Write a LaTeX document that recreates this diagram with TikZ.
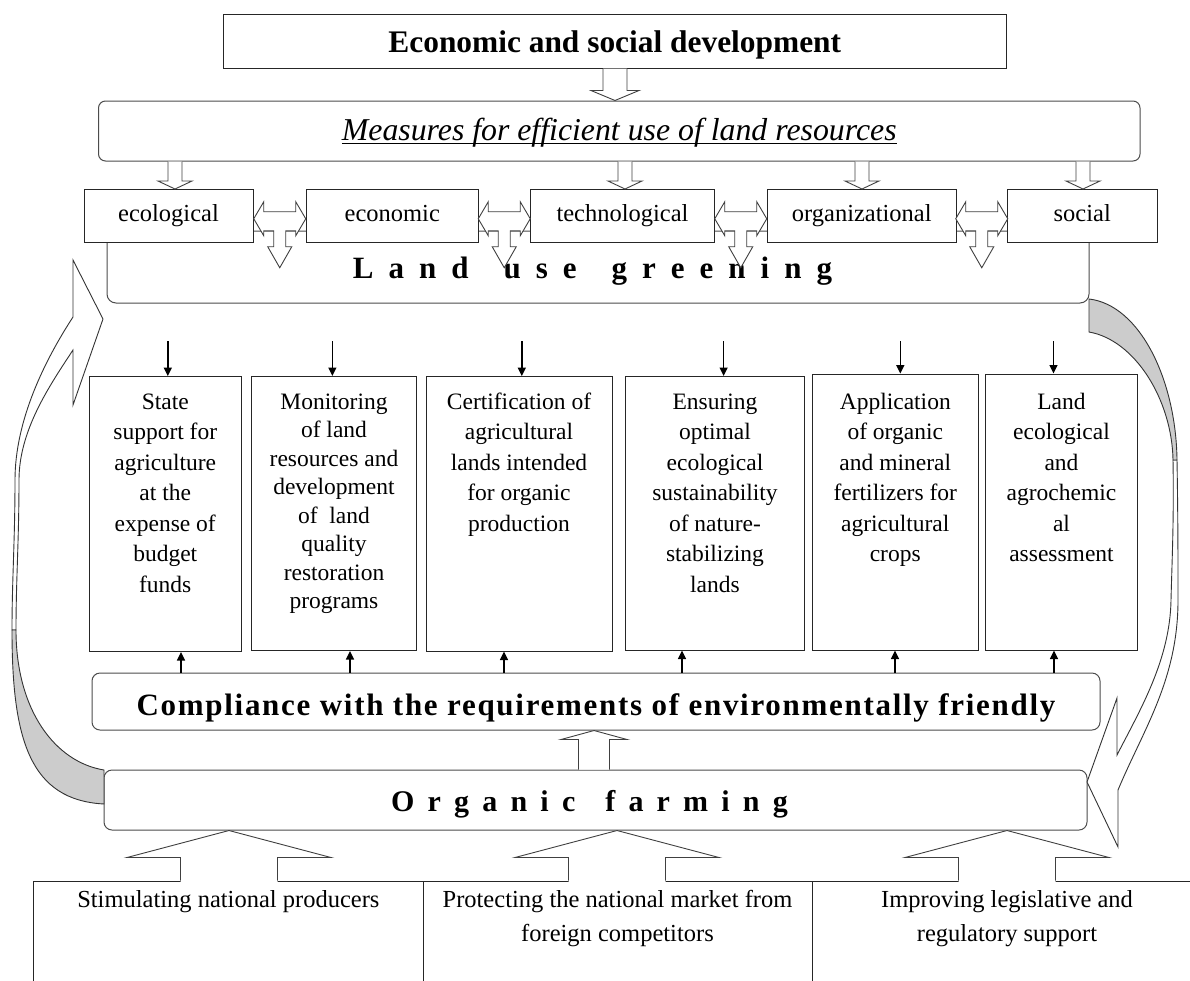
\documentclass[tikz,border=0pt]{standalone}
\usepackage{fontspec}
\setmainfont{Liberation Serif}
\usetikzlibrary{calc,arrows.meta}

% type sizes
\newcommand\boxfont{\fontsize{23.5}{30.5}\selectfont}
\newcommand\boxfonttight{\fontsize{23.5}{28.5}\selectfont}
\newcommand\basefont{\fontsize{24.5}{34}\selectfont}
\newcommand\catfont{\fontsize{24.5}{24.5}\selectfont}
\newcommand\headfont{\bfseries\fontsize{31.4}{31.4}\selectfont}
% struts fixing the first baseline of top-aligned texts
\newcommand\firstline{\rule{0pt}{21.4pt}}
\newcommand\firstlinebase{\rule{0pt}{22pt}}
% letter and word gaps of the spaced-out headings
\newcommand\lgap{\hspace{15pt}}
\newcommand\wgap{\hspace{35pt}}
\newcommand\ogap{\hspace{13.2pt}}
\newcommand\owgap{\hspace{30pt}}
% underline sitting just under the baseline
\newsavebox\ulbox
\newcommand\undl[1]{\sbox\ulbox{#1}\rlap{\rule[-3.5pt]{\wd\ulbox}{0.9pt}}\usebox\ulbox}

% hollow block arrow pointing down from one node to another
\newcommand\blockdown[6]{%
  \path (#1,0 |- #2.south) coordinate (bs) (#1,0 |- #3.north) coordinate (be);
  \filldraw[hollow] ($(bs)+(-#4,0)$) -- ($(be)+(-#4,-#6)$) -- ($(be)+(-#5,-#6)$) -- (be)
    -- ($(be)+(#5,-#6)$) -- ($(be)+(#4,-#6)$) -- ($(bs)+(#4,0)$);
}
% two-headed arrow between neighbouring boxes with a branch pointing down
\newcommand\tarrow[2]{%
  \path ($(#1.east)!0.5!(#2.west)$) coordinate (tc);
  \filldraw[hollow, shift={(tc)}] (-26,3) -- (-16,-14) -- (-16,-4) -- (16,-4) -- (16,-14)
    -- (26,3) -- (16,20) -- (16,15) -- (6,15) -- (6,31) -- (12,31) -- (0,52)
    -- (-12,31) -- (-6,31) -- (-6,15) -- (-16,15) -- (-16,20) -- cycle;
}
% wide arrow rising out of a bottom box into the organic farming bar
\newcommand\trap[2]{%
  \path (#1,0 |- org.south) coordinate (ta) (#1,0 |- #2.north) coordinate (tb);
  \fill[white] ($(tb)+(-48.5,1.5)$) -- ($(ta)+(-48.5,27)$) -- ($(ta)+(-102,27)$) -- (ta)
    -- ($(ta)+(102,27)$) -- ($(ta)+(48.5,27)$) -- ($(tb)+(48.5,1.5)$) -- cycle;
  \draw[hollowline] ($(tb)+(-48.5,0)$) -- ($(ta)+(-48.5,27)$) -- ($(ta)+(-102,27)$) -- (ta)
    -- ($(ta)+(102,27)$) -- ($(ta)+(48.5,27)$) -- ($(tb)+(48.5,0)$);
}

\begin{document}
\begin{tikzpicture}[x=1pt,y=-1pt,
  frame/.style={draw=black!85, line width=1pt, fill=white, inner sep=0pt},
  soft/.style={draw=black!70, line width=1pt, fill=white, rounded corners=7pt, inner sep=0pt},
  btext/.style={align=center, inner sep=0pt, font=\boxfont},
  basetext/.style={align=center, inner sep=0pt, font=\basefont},
  cat/.style={frame, minimum height=52.5pt, text height=17.5pt, text depth=6pt, font=\catfont},
  hollow/.style={draw=black!75, line width=0.9pt, fill=white, line join=miter},
  hollowline/.style={draw=black!75, line width=0.9pt, line join=miter},
  sarrow/.style={-{Triangle[length=8.5pt,width=8pt]}, line width=1.4pt, draw=black},
  ribbon/.style={draw=black!80, line width=0.9pt, fill=white, line join=miter}
]
\useasboundingbox (0,0) rectangle (1190,980);
\clip (0,0) rectangle (1190,980);

% ---- land use greening bar (behind the five aspects) ----
\node[soft, rounded corners=9pt, minimum width=982pt, minimum height=72pt,
      text height=22.6pt, text depth=0pt, font={\bfseries\fontsize{31}{31}\selectfont}]
  (green) at (598,267)
  {L\lgap a\lgap n\lgap d\wgap u\lgap s\lgap e\wgap g\lgap r\lgap e\lgap e\lgap n\lgap i\lgap n\lgap g\hspace*{11pt}};

% ---- top of the scheme ----
\node[frame, minimum width=782.5pt, minimum height=54pt, text height=22pt, text depth=0pt,
      font=\headfont] (top) at (614.75,41) {Economic and social development};
\node[soft, minimum width=1041.5pt, minimum height=60pt, text height=18pt, text depth=0pt,
      font={\itshape\fontsize{31.8}{31.8}\selectfont}] (meas) at (619.25,131)
  {\undl{Measures for efficient use of land resources}};

% ---- the five aspects ----
\node[cat, minimum width=169pt]   (eco)  at (168.5,215.75)  {ecological};
\node[cat, minimum width=171.5pt] (econ) at (392.25,215.75) {economic};
\node[cat, minimum width=184pt]   (tech) at (622.5,215.75)  {technological};
\node[cat, minimum width=189.5pt] (orgn) at (861.75,215.75) {organizational};
\node[cat, minimum width=150.5pt] (soc)  at (1082.25,215.75) {social};

\blockdown{615}{top}{meas}{12}{24}{10}
\blockdown{175}{meas}{eco}{7}{17}{8}
\blockdown{625}{meas}{tech}{7}{17}{8}
\blockdown{862}{meas}{orgn}{7}{17}{8}
\blockdown{1083}{meas}{soc}{7}{17}{8}

\tarrow{eco}{econ}
\tarrow{econ}{tech}
\tarrow{tech}{orgn}
\tarrow{orgn}{soc}

% ---- six directions ----
\node[frame, minimum width=151.5pt, minimum height=275pt]   (b1) at (165.25,514)  {};
\node[frame, minimum width=165pt,   minimum height=274pt]   (b2) at (334,513.5)   {};
\node[frame, minimum width=186pt,   minimum height=274.5pt] (b3) at (519,513.75)  {};
\node[frame, minimum width=179pt,   minimum height=273.5pt] (b4) at (715,513.25)  {};
\node[frame, minimum width=165.5pt, minimum height=276pt]   (b5) at (895.25,512)  {};
\node[frame, minimum width=152pt,   minimum height=276pt]   (b6) at (1061.5,512)  {};

\node[btext, anchor=north] (t1) at ($(b1.north)+(0,11.5)$)
  {\firstline State\\support for\\agriculture\\at the\\expense of\\budget\\funds};
\node[btext, anchor=north, font=\boxfonttight] (t2) at ($(b2.north)+(0,11.5)$)
  {\firstline Monitoring\\of land\\resources and\\development\\of\ \ land\\quality\\restoration\\programs};
\node[btext, anchor=north] (t3) at ($(b3.north)+(0,11.5)$)
  {\firstline Certification of\\agricultural\\lands intended\\for organic\\production};
\node[btext, anchor=north] (t4) at ($(b4.north)+(0,11.5)$)
  {\firstline Ensuring\\optimal\\ecological\\sustainability\\of nature-\\stabilizing\\lands};
\node[btext, anchor=north] (t5) at ($(b5.north)+(0,14)$)
  {\firstline Application\\of organic\\and mineral\\fertilizers for\\agricultural\\crops};
\node[btext, anchor=north] (t6) at ($(b6.north)+(0,14)$)
  {\firstline Land\\ecological\\and\\agrochemic\\al\\assessment};

\foreach \x/\b in {167.8/b1, 332.4/b2, 521.8/b3, 723.6/b4, 900.3/b5, 1053.5/b6} {
  \coordinate (d\b) at (\x,341);
  \draw[sarrow] (d\b) -- (\x,0 |- \b.north);
}

% ---- compliance and organic farming ----
\node[soft, rounded corners=8pt, minimum width=1008pt, minimum height=57pt,
      text height=27pt, text depth=0pt,
      font={\bfseries\fontsize{31}{31}\selectfont\addfontfeature{LetterSpace=5.5}}]
  (comp) at (596,701.5) {Compliance with the requirements of environmentally friendly};
\node[soft, rounded corners=8pt, minimum width=983pt, minimum height=60pt,
      text height=22pt, text depth=0pt, font={\bfseries\fontsize{30}{30}\selectfont}]
  (org) at (595.5,800)
  {O\ogap r\ogap g\ogap a\ogap n\ogap i\ogap c\owgap f\ogap a\ogap r\ogap m\ogap i\ogap n\ogap g\hspace*{12pt}};

\foreach \x/\b in {181/b1, 350/b2, 504/b3, 682/b4, 895/b5, 1054/b6}
  \draw[sarrow] (\x,0 |- comp.north) -- (\x,0 |- \b.south);

\path (594,0 |- org.north) coordinate (us) (594,0 |- comp.south) coordinate (ue);
\filldraw[hollow] ($(us)+(-15.5,0)$) -- ($(ue)+(-15.5,9)$) -- ($(ue)+(-33,9)$) -- (ue)
  -- ($(ue)+(33,9)$) -- ($(ue)+(15.5,9)$) -- ($(us)+(15.5,0)$);

% ---- feedback ribbons ----
% left: from organic farming up to the greening bar
\filldraw[ribbon] (73,317) -- (73,260) -- (103,319) -- (73,405) -- (73,350)
  .. controls (50,385) and (19,430) .. (19,480)
  .. controls (19,540) and (16,580) .. (16,630) -- (12,630)
  .. controls (12,580) and (15,540) .. (15,480)
  .. controls (15,420) and (45,360) .. (73,317) -- cycle;
\filldraw[ribbon, fill=black!20] (12,630) .. controls (12,740) and (30,800) .. (104,804)
  -- (104,770) .. controls (55,762) and (16,710) .. (16,630) -- cycle;
% right: from the greening bar down to organic farming
\filldraw[ribbon] (1117,755) -- (1117,698) -- (1087,782) -- (1118,847) -- (1118,790)
  .. controls (1143,730) and (1178,680) .. (1178,600)
  .. controls (1178,560) and (1178,520) .. (1177,460) -- (1173,460)
  .. controls (1174,520) and (1172,560) .. (1171,600)
  .. controls (1170,660) and (1140,710) .. (1117,755) -- cycle;
\filldraw[ribbon, fill=black!20] (1177,460) .. controls (1176,380) and (1140,305) .. (1089,299)
  -- (1089,332) .. controls (1135,340) and (1172,400) .. (1173,460) -- cycle;

% ---- state policy instruments ----
\node[frame, minimum width=389.3pt, minimum height=129pt] (bb1) at (228.35,945.5) {};
\node[frame, minimum width=389pt,   minimum height=129pt] (bb2) at (617.5,945.5)  {};
\node[frame, minimum width=390pt,   minimum height=129pt] (bb3) at (1007,945.5)   {};

\trap{229}{bb1}
\trap{617}{bb2}
\trap{1007}{bb3}

\node[basetext, anchor=north] (s1) at ($(bb1.north)+(0,5)$)
  {\firstlinebase Stimulating national producers};
\node[basetext, anchor=north] (s2) at ($(bb2.north)+(0,5)$)
  {\firstlinebase Protecting the national market from\\foreign competitors};
\node[basetext, anchor=north] (s3) at ($(bb3.north)+(0,5)$)
  {\firstlinebase Improving legislative and\\regulatory support};
\end{tikzpicture}
\end{document}
